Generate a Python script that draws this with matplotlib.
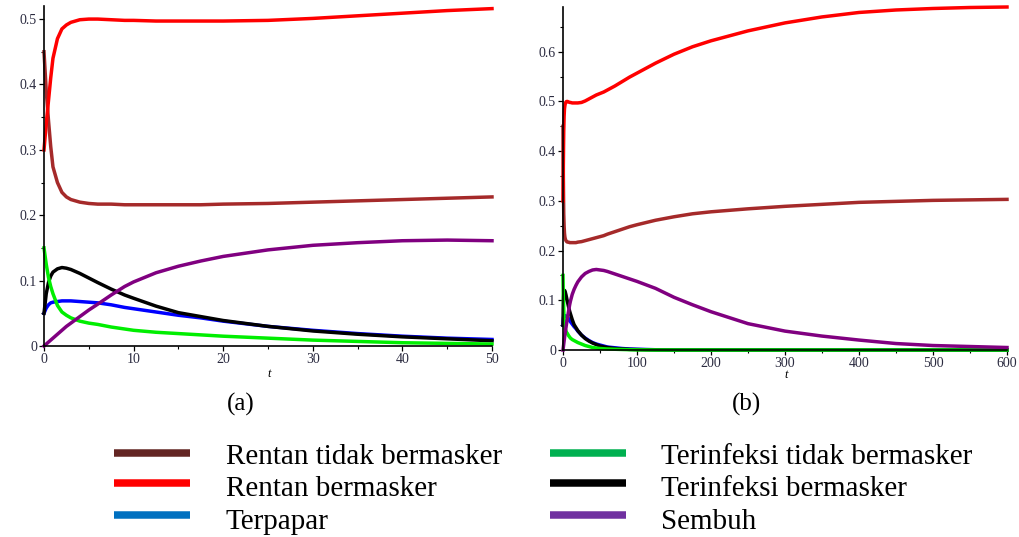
import numpy as np
import matplotlib.pyplot as plt
from matplotlib.lines import Line2D
from matplotlib.ticker import MultipleLocator

# time points (shared by both panels)
t = np.array([0, 0.25, 0.5, 0.75, 1, 1.5, 2, 2.5, 3, 4,
              5, 6, 7.5, 9, 10, 12.5, 15, 17.5, 20, 25,
              30, 35, 40, 45, 50, 55, 60, 70, 80, 90,
              100, 125, 150, 175, 200, 250, 300, 350, 400, 450,
              500, 550, 600])

# Rentan tidak bermasker
s_tidak = np.array([0.45, 0.39, 0.345, 0.305, 0.274, 0.25, 0.235, 0.228, 0.224, 0.220,
                    0.218, 0.217, 0.217, 0.216, 0.216, 0.216, 0.216, 0.216, 0.217, 0.218,
                    0.220, 0.222, 0.224, 0.226, 0.228, 0.230, 0.233, 0.238, 0.243, 0.248,
                    0.252, 0.261, 0.268, 0.274, 0.278, 0.284, 0.289, 0.293, 0.297, 0.299,
                    0.301, 0.302, 0.303])
# Rentan bermasker
s_masker = np.array([0.30, 0.34, 0.375, 0.41, 0.44, 0.47, 0.485, 0.491, 0.495, 0.499,
                     0.500, 0.500, 0.499, 0.498, 0.498, 0.497, 0.497, 0.497, 0.497, 0.498,
                     0.501, 0.505, 0.509, 0.513, 0.516, 0.519, 0.523, 0.531, 0.540, 0.549,
                     0.557, 0.577, 0.595, 0.610, 0.622, 0.642, 0.658, 0.670, 0.679, 0.684,
                     0.687, 0.689, 0.690])
# Terpapar
terpapar = np.array([0.05, 0.058, 0.063, 0.066, 0.067, 0.068, 0.069, 0.069, 0.069, 0.068,
                     0.067, 0.066, 0.063, 0.059, 0.057, 0.052, 0.047, 0.043, 0.038, 0.030,
                     0.024, 0.019, 0.015, 0.012, 0.010, 0.008, 0.006, 0.0045, 0.003, 0.002,
                     0.0015, 0.0005, 0, 0, 0, 0, 0, 0, 0, 0,
                     0, 0, 0])
# Terinfeksi tidak bermasker
i_tidak = np.array([0.15, 0.125, 0.105, 0.091, 0.08, 0.062, 0.052, 0.047, 0.043, 0.038,
                    0.035, 0.033, 0.029, 0.026, 0.024, 0.021, 0.019, 0.017, 0.015, 0.012,
                    0.009, 0.007, 0.005, 0.004, 0.003, 0.0025, 0.002, 0.0015, 0.001, 0.0006,
                    0.0003, 0, 0, 0, 0, 0, 0, 0, 0, 0,
                    0, 0, 0])
# Terinfeksi bermasker
i_masker = np.array([0.05, 0.08, 0.097, 0.107, 0.113, 0.118, 0.120, 0.119, 0.117, 0.111,
                     0.104, 0.097, 0.087, 0.078, 0.073, 0.061, 0.051, 0.045, 0.039, 0.030,
                     0.023, 0.018, 0.014, 0.011, 0.008, 0.0065, 0.005, 0.003, 0.002, 0.0012,
                     0.0008, 0.0002, 0, 0, 0, 0, 0, 0, 0, 0,
                     0, 0, 0])
# Sembuh
sembuh = np.array([0, 0.003, 0.006, 0.009, 0.012, 0.018, 0.024, 0.030, 0.035, 0.045,
                   0.055, 0.064, 0.078, 0.091, 0.098, 0.112, 0.122, 0.130, 0.137, 0.147,
                   0.154, 0.158, 0.161, 0.162, 0.161, 0.160, 0.158, 0.153, 0.148, 0.143,
                   0.138, 0.124, 0.106, 0.091, 0.077, 0.053, 0.038, 0.028, 0.020, 0.013,
                   0.009, 0.007, 0.005])

series = [s_tidak, s_masker, terpapar, i_masker, i_tidak, sembuh]
plot_colors = ['#a52a2a', '#ff0000', '#0000ff', '#000000', '#00ee00', '#800080']

labels = ['Rentan tidak bermasker', 'Rentan bermasker', 'Terpapar',
          'Terinfeksi tidak bermasker', 'Terinfeksi bermasker', 'Sembuh']
legend_colors = ['#632523', '#ff0000', '#0070c0', '#00b050', '#000000', '#7030a0']

tick_col = '#2b2b40'

fig = plt.figure(figsize=(10.2, 5.37), dpi=100)
ax1 = fig.add_axes([44/1020, 191/537, 448/1020, 340/537])
ax2 = fig.add_axes([563/1020, 187/537, 444/1020, 343/537])


def style(ax, xmax, ymax, xmaj, xmin, ymaj):
    ax.set_xlim(0, xmax)
    ax.set_ylim(0, ymax)
    for s in ['top', 'right']:
        ax.spines[s].set_visible(False)
    for s in ['left', 'bottom']:
        ax.spines[s].set_linewidth(1.2)
    ax.xaxis.set_major_locator(MultipleLocator(xmaj))
    ax.xaxis.set_minor_locator(MultipleLocator(xmin))
    ax.yaxis.set_major_locator(MultipleLocator(ymaj))
    ax.yaxis.set_minor_locator(MultipleLocator(0.05))
    ax.tick_params(which='major', length=3.5, width=0.9, labelsize=10,
                   labelcolor=tick_col, pad=1.5)
    ax.tick_params(which='minor', length=2.5, width=0.8)
    ax.yaxis.set_major_formatter(plt.FuncFormatter(lambda v, p: '0' if v == 0 else f'{v:g}'))
    for lab in ax.get_xticklabels() + ax.get_yticklabels():
        lab.set_family('Liberation Serif')


mask = t <= 50
for y, c in zip(series, plot_colors):
    ax1.plot(t[mask], y[mask], color=c, lw=2.5, clip_on=False)
    ax2.plot(t, y, color=c, lw=2.5, clip_on=False)

style(ax1, 50, 0.52, 10, 5, 0.1)
style(ax2, 600, 0.69, 100, 50, 0.1)

fig.text(269/1020, 1 - 374/537, 't', style='italic', family='Liberation Serif',
         fontsize=9, ha='center', va='center')
fig.text(786/1020, 1 - 375/537, 't', style='italic', family='Liberation Serif',
         fontsize=9, ha='center', va='center')
fig.text(241/1020, 1 - 404/537, '(a)', family='Liberation Serif', fontsize=18,
         ha='center', va='center')
fig.text(747/1020, 1 - 404/537, '(b)', family='Liberation Serif', fontsize=18,
         ha='center', va='center')

# legend drawn below the panels, two columns of three
handle_y = [453, 483, 515]
text_base = [464, 496, 529]
cols = [(114, 190, 226), (550, 626, 661)]
for i, (lab, c) in enumerate(zip(labels, legend_colors)):
    col, row = divmod(i, 3)
    x0, x1, xt = cols[col]
    fig.add_artist(Line2D([x0/1020, x1/1020], [1 - handle_y[row]/537] * 2,
                          transform=fig.transFigure, color=c, lw=5.4,
                          solid_capstyle='butt'))
    fig.text(xt/1020, 1 - text_base[row]/537, lab, family='Liberation Serif',
             fontsize=21, ha='left', va='baseline')

fig.savefig('out.png', dpi=100)
